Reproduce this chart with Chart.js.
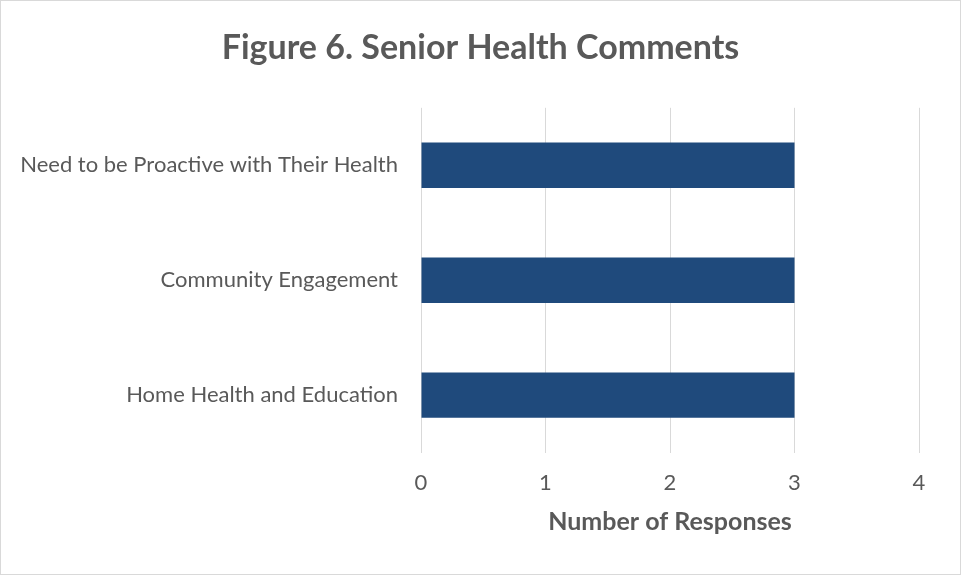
<!DOCTYPE html>
<html>
<head>
<meta charset="utf-8">
<script src="https://cdn.jsdelivr.net/npm/chart.js@4/dist/chart.umd.min.js"></script>
<style>
    html, body { margin: 0; padding: 0; background: #fff; }
    .frame {
        width: 959px;
        height: 573px;
        border: 1px solid #d9d9d9;
        position: relative;
    }
    canvas { position: absolute; left: -1px; top: -1px; }
</style>
</head>
<body>
<div class="frame">
    <canvas id="commentsChart" width="961" height="575"></canvas>
</div>
<script>
const categories = [
    'Need to be Proactive with Their Health',
    'Community Engagement',
    'Home Health and Education'
];
const responses = [3, 3, 3];
const xTicks = [0, 1, 2, 3, 4];

const textColor = '#595959';
const fontFamily = 'Lato, "Open Sans", sans-serif';

new Chart(document.getElementById('commentsChart'), {
    type: 'bar',
    data: {
        labels: categories,
        datasets: [{
            label: 'Number of Responses',
            data: responses,
            backgroundColor: '#1f4a7c',
            categoryPercentage: 1,
            barPercentage: 0.395
        }]
    },
    options: {
        indexAxis: 'y',
        responsive: false,
        animation: false,
        layout: {
            padding: { top: 16, right: 0, bottom: 38, left: 0 }
        },
        plugins: {
            legend: { display: false },
            tooltip: { enabled: false },
            title: {
                display: true,
                text: 'Figure 6. Senior Health Comments',
                color: textColor,
                font: { family: fontFamily, size: 34, weight: 'bold' },
                padding: { top: 12, bottom: 39 }
            }
        },
        scales: {
            x: {
                min: 0,
                max: 4,
                afterBuildTicks: axis => {
                    axis.ticks = xTicks.map(v => ({ value: v }));
                },
                // tick marks are hidden, their length just spaces the labels
                grid: { color: '#d9d9d9', tickColor: 'rgba(0,0,0,0)', tickLength: 14 },
                border: { display: false },
                ticks: {
                    color: textColor,
                    padding: 3,
                    maxRotation: 0,
                    font: { family: fontFamily, size: 22 }
                },
                title: {
                    display: true,
                    text: 'Number of Responses',
                    color: textColor,
                    padding: { top: 8, bottom: 0 },
                    font: { family: fontFamily, size: 25, weight: 'bold' }
                }
            },
            y: {
                grid: { display: false, drawTicks: false },
                border: { display: false },
                ticks: {
                    color: textColor,
                    padding: 23,
                    font: { family: fontFamily, size: 22 }
                },
                afterFit: axis => { axis.width = 421; }
            },
            // empty right-hand axis, only reserves the margin right of the plot
            yRight: {
                type: 'category',
                position: 'right',
                labels: categories,
                grid: { display: false, drawTicks: false },
                border: { display: false },
                ticks: { display: false },
                afterFit: axis => { axis.width = 42; }
            }
        }
    }
});
</script>
</body>
</html>
